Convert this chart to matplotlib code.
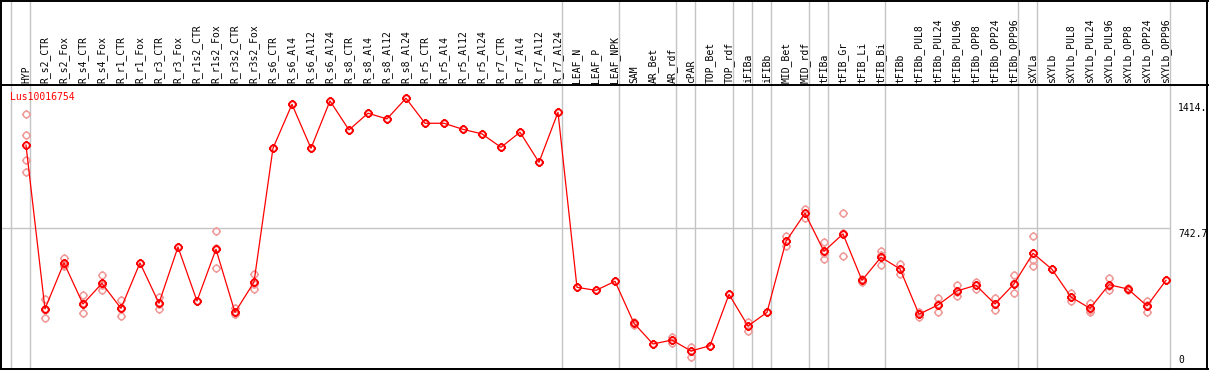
import matplotlib
matplotlib.use("Agg")
import matplotlib.pyplot as plt
from matplotlib.path import Path
from matplotlib.lines import Line2D
from matplotlib.transforms import blended_transform_factory, offset_copy
import numpy as np

# ---------------- data ----------------
categories = [
    "HYP", "R_s2_CTR", "R_s2_Fox", "R_s4_CTR", "R_s4_Fox", "R_r1_CTR", "R_r1_Fox",
    "R_r3_CTR", "R_r3_Fox", "R_r1s2_CTR", "R_r1s2_Fox", "R_r3s2_CTR", "R_r3s2_Fox",
    "R_s6_CTR", "R_s6_Al4", "R_s6_Al12", "R_s6_Al24", "R_s8_CTR", "R_s8_Al4",
    "R_s8_Al12", "R_s8_Al24", "R_r5_CTR", "R_r5_Al4", "R_r5_Al12", "R_r5_Al24",
    "R_r7_CTR", "R_r7_Al4", "R_r7_Al12", "R_r7_Al24", "LEAF_N", "LEAF_P", "LEAF_NPK",
    "SAM", "AR_Bet", "AR_rdf", "cPAR", "TOP_Bet", "TOP_rdf", "iFIBa", "iFIBb",
    "MID_Bet", "MID_rdf", "tFIBa", "tFIB_Gr", "tFIB_Li", "tFIB_Bi", "tFIBb",
    "tFIBb_PUL8", "tFIBb_PUL24", "tFIBb_PUL96", "tFIBb_OPP8", "tFIBb_OPP24",
    "tFIBb_OPP96", "sXYLa", "sXYLb", "sXYLb_PUL8", "sXYLb_PUL24", "sXYLb_PUL96",
    "sXYLb_OPP8", "sXYLb_OPP24", "sXYLb_OPP96",
]

mean_values = [
    1182, 317, 560, 343, 452, 320, 560, 347, 644, 359, 632, 299, 458,
    1165, 1397, 1165, 1415, 1262, 1350, 1320, 1429, 1297, 1297, 1265, 1241,
    1170, 1250, 1091, 1355, 431, 415, 463,
    241, 132, 153, 95, 123, 394, 227, 299,
    674, 822, 621, 713, 468, 590, 528,
    289, 338, 412, 442, 343, 449,
    611, 526, 380, 320, 445, 422, 333, 468,
]

replicates = [
    [1346, 1234, 1103, 1040], [370, 268, 313], [584, 545, 551], [389, 294, 346],
    [496, 415, 446], [364, 278, 319], [560], [378, 318, 344], [644], [359],
    [727, 532, 637], [320, 290, 288], [502, 421, 450],
    [1165], [1397], [1165], [1415], [1262], [1350], [1320], [1429], [1297], [1297],
    [1265], [1241], [1170], [1250], [1091], [1355], [431], [415], [463],
    [250, 232], [132], [171, 139], [118, 65], [123], [394], [250, 199], [299],
    [704, 648], [846, 796], [672, 579, 612], [822, 597, 720], [477, 458], [623, 547, 600],
    [554, 503, 527],
    [302, 276], [373, 299, 342], [443, 384, 409], [459, 422, 445], [375, 313, 341],
    [495, 400, 452],
    [702, 575, 544], [526], [400, 361, 379], [347, 302, 311], [479, 417, 439],
    [428, 416], [359, 302, 338], [468],
]

# groups end after these category indices (separator lines)
group_ends = [-1, 0, 28, 31, 34, 35, 37, 38, 39, 41, 42, 45, 52, 53, 60]

gene_name = "Lus10016754"
axis_ticks = [0, 742.7, 1414]
axis_tick_labels = ["0", "742.7", "1414."]

# ---------------- figure ----------------
W, H = 1209, 370
fig = plt.figure(figsize=(W / 100, H / 100), dpi=100)
fig.patch.set_facecolor("white")

px_left, px_right, px_top, px_bottom = 1, 1170, 85, 369
ax = fig.add_axes([px_left / W, (H - px_bottom) / H,
                   (px_right - px_left) / W, (px_bottom - px_top) / H])
ax.set_xlim(-1.314, 60.21)
ax.set_ylim(0, 1499)
ax.set_xticks([])
ax.set_yticks([])
for s in ["top", "right"]:
    ax.spines[s].set_visible(False)
for s in ["left", "bottom"]:
    ax.spines[s].set_color("black")
    ax.spines[s].set_linewidth(1.4)

MONO = "DejaVu Sans Mono"
grey = "#c4c4c4"

# vertical separators spanning the whole figure height
ymax_frac = (px_bottom - 0) / (px_bottom - px_top)
for g in group_ends:
    ax.axvline(g + 0.21, ymin=0, ymax=ymax_frac, color=grey, lw=1.0,
               clip_on=False, zorder=1)
ax.axhline(axis_ticks[1], color=grey, lw=1.0, zorder=1)

# custom marker: circle with four short outward ticks
circ = Path.unit_circle()
ticks = []
for dx, dy in [(0, 1), (0, -1), (1, 0), (-1, 0)]:
    ticks.append(Path([[dx * 1.0, dy * 1.0], [dx * 1.4, dy * 1.4]],
                      [Path.MOVETO, Path.LINETO]))
gear = Path.make_compound_path(circ, *ticks)

x = np.arange(len(categories))
rep_x = [i for i, reps in enumerate(replicates) for _ in reps]
rep_y = [v for reps in replicates for v in reps]
ax.plot(rep_x, rep_y, linestyle="none", marker=gear, markersize=6.5,
        markerfacecolor="none", markeredgecolor="#f09a9a", markeredgewidth=1.1,
        zorder=2, clip_on=False)
ax.plot(x, mean_values, color="red", lw=0.9, zorder=3)
ax.plot(x, mean_values, linestyle="none", marker=gear, markersize=6.5,
        markerfacecolor="none", markeredgecolor="red", markeredgewidth=1.3,
        zorder=4, clip_on=False)

# header labels
trans_hdr = blended_transform_factory(ax.transData, ax.transAxes)
trans_hdr = offset_copy(trans_hdr, fig=fig, x=0, y=2, units="dots")
for i, lab in enumerate(categories):
    ax.text(i, 1.0, lab, rotation=90, ha="center", va="bottom",
            fontsize=7, family=MONO, color="black", transform=trans_hdr,
            clip_on=False)

# gene name
ax.text(9 / (px_right - px_left), 1.0, gene_name, transform=offset_copy(
    ax.transAxes, fig=fig, x=0, y=-7, units="dots"),
    ha="left", va="top", fontsize=7, family=MONO, color="red")

# right axis labels
trans_r = blended_transform_factory(ax.transAxes, ax.transData)
offsets = {0: (8, 4, "bottom"), 1: (8, -1, "top"), 2: (8, -2, "top")}
for k, (v, lab) in enumerate(zip(axis_ticks, axis_tick_labels)):
    dx, dy, va = offsets[k]
    ax.text(1.0, v, lab, transform=offset_copy(trans_r, fig=fig, x=dx, y=dy, units="dots"),
            ha="left", va=va, fontsize=7, family=MONO, color="black", clip_on=False)

# frame lines (figure borders and header separator)
def fx(p):
    return p / W

def fy(p):
    return 1 - p / H

frame_lw = 1.4
fig.add_artist(Line2D([fx(0), fx(W)], [fy(0.7), fy(0.7)], color="black", lw=frame_lw))
fig.add_artist(Line2D([fx(0), fx(W)], [fy(px_top), fy(px_top)], color="black", lw=frame_lw))
fig.add_artist(Line2D([fx(0), fx(W)], [fy(px_bottom), fy(px_bottom)], color="black", lw=frame_lw))
fig.add_artist(Line2D([fx(1), fx(1)], [fy(0), fy(H)], color="black", lw=frame_lw))
fig.add_artist(Line2D([fx(1206.7), fx(1206.7)], [fy(0), fy(H)], color="black", lw=frame_lw))

fig.savefig("out.png", dpi=100, facecolor="white")
